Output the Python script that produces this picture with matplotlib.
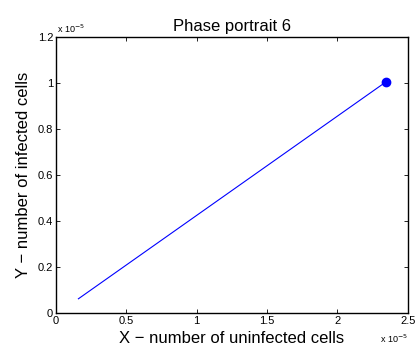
import matplotlib
matplotlib.use("Agg")
import matplotlib.pyplot as plt
from matplotlib.ticker import FuncFormatter
import numpy as np

plt.rcParams['font.family'] = ['Liberation Sans', 'DejaVu Sans']

scale = 1e-5
x_vals = [0.16e-5, 2.345e-5]
y_vals = [0.062e-5, 1.005e-5]
x_ticks = [0, 0.5e-5, 1.0e-5, 1.5e-5, 2.0e-5, 2.5e-5]
y_ticks = [0, 0.2e-5, 0.4e-5, 0.6e-5, 0.8e-5, 1.0e-5, 1.2e-5]

fig = plt.figure(figsize=(4.17, 3.49), dpi=100)
ax = fig.add_axes([0.134, 0.103, 0.844, 0.791])
ax.plot(x_vals, y_vals, color='blue', lw=0.8)
ax.plot([x_vals[-1]], [y_vals[-1]], 'o', color='blue', ms=6)

ax.set_xlim(0, 2.5e-5)
ax.set_ylim(0, 1.2e-5)
ax.set_xticks(x_ticks)
ax.set_yticks(y_ticks)
fmt = FuncFormatter(lambda v, p: ('%g' % round(v / scale, 6)))
ax.xaxis.set_major_formatter(fmt)
ax.yaxis.set_major_formatter(fmt)
ax.tick_params(direction='in', length=3, width=0.6, labelsize=8, top=True, right=True, pad=2)
for s in ax.spines.values():
    s.set_linewidth(1.0)

ax.set_title('Phase portrait 6', fontsize=12, pad=4)
ax.set_xlabel('X \u2212 number of uninfected cells', fontsize=12, labelpad=4)
ax.set_ylabel('Y \u2212 number of infected cells', fontsize=12, labelpad=5)

fig.text(0.134 + 0.003, 0.9, r'x 10$^{-5}$', fontsize=6.5, ha='left', va='bottom')
fig.text(0.978, 0.012, r'x 10$^{-5}$', fontsize=6.5, ha='right', va='bottom')

fig.savefig('out.png', dpi=100)
